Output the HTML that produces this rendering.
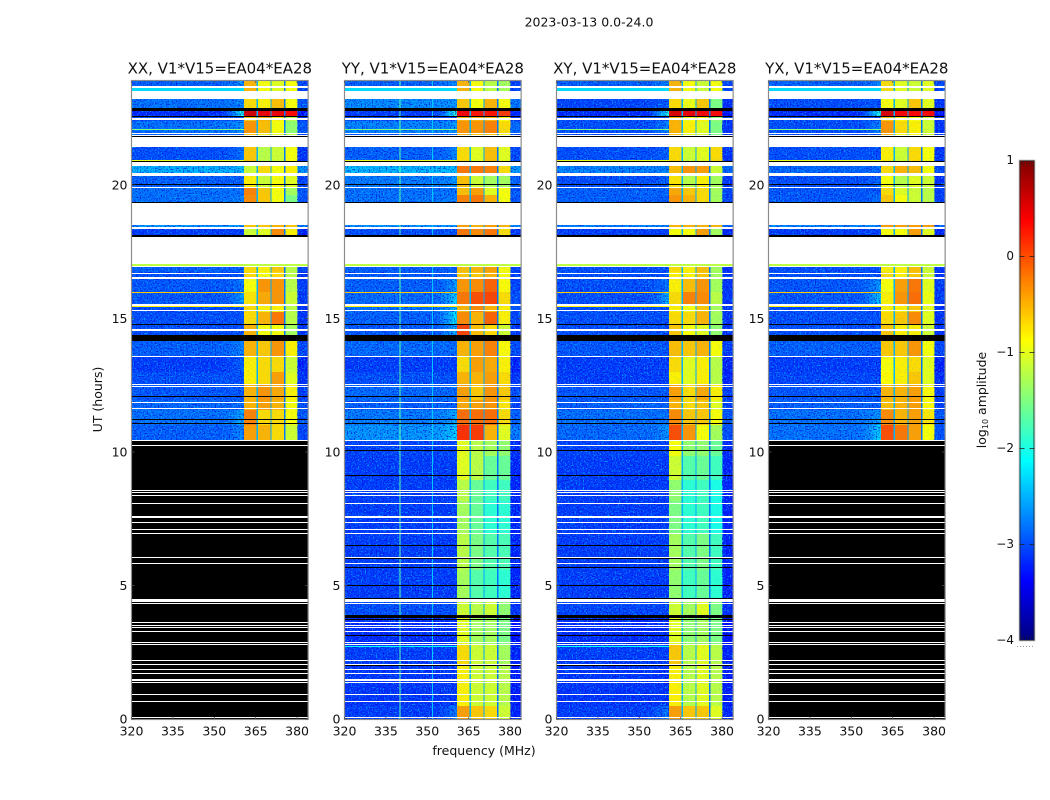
<!DOCTYPE html>
<html>
<head>
<meta charset="utf-8">
<title>2023-03-13 0.0-24.0</title>
<style>
html,body{margin:0;padding:0;background:#fff;}
svg{display:block;}
text{font-family:"DejaVu Sans","Liberation Sans",sans-serif;fill:#111;}
</style>
</head>
<body>
<svg id="chart" xmlns="http://www.w3.org/2000/svg" width="1050" height="800" viewBox="0 0 1050 800">
  <defs>
    <filter id="speckle-light" x="0" y="0" width="1" height="1" color-interpolation-filters="sRGB">
      <feTurbulence type="fractalNoise" baseFrequency="0.72" numOctaves="1" seed="4"/>
      <feColorMatrix type="matrix" values="0 0 0 0 0  0 0 0 0 0.72  0 0 0 0 1  5 0 0 0 -2.55"/>
    </filter>
    <filter id="speckle-dark" x="0" y="0" width="1" height="1" color-interpolation-filters="sRGB">
      <feTurbulence type="fractalNoise" baseFrequency="0.72" numOctaves="1" seed="11"/>
      <feColorMatrix type="matrix" values="0 0 0 0 0  0 0 0 0 0.05  0 0 0 0 0.85  5 0 0 0 -2.5"/>
    </filter>
  </defs>
  <text x="589" y="26.5" font-size="12.5" text-anchor="middle">2023-03-13 0.0-24.0</text>
  <text x="484" y="755" font-size="12.5" text-anchor="middle">frequency (MHz)</text>
  <text x="0" y="0" font-size="12.5" text-anchor="middle" transform="translate(102 399.5) rotate(-90)">UT (hours)</text>
  <text x="0" y="0" font-size="12.5" text-anchor="middle" transform="translate(986 400) rotate(-90)">log<tspan font-size="8" dy="2">10</tspan><tspan dy="-2"> amplitude</tspan></text>
  <g id="panels"></g>
  <g id="colorbar"></g>
</svg>
<script>
const panelNames = ["XX", "YY", "XY", "YX"];
const baselineLabel = "V1*V15=EA04*EA28";
const xTicks = [320, 335, 350, 365, 380];
const yTicks = [0, 5, 10, 15, 20];
const colorbarTicks = [1, 0, -1, -2, -3, -4];
const colorbarLabels = ["1", "0", "\u22121", "\u22122", "\u22123", "\u22124"];

// Spectral windows, MHz
const windowEdges = [[360.7, 365.3], [365.8, 370.4], [370.8, 375.2], [375.8, 380.1]];
const bandEdge = 352;
const freqMin = 320;
const freqMax = 384;
const gapLevels = [-2.5, -2.55, -2.8];

// Time bands, UT hours [top, bottom]
const utBands = [[24,23.6],[23.32,22.97],[22.87,22.67],[22.67,22.49],[22.49,22.02],[22.02,21.88],[21.49,20.99],[20.79,20.54],[20.41,19.96],[19.96,19.7],[19.7,19.42],[18.57,18.49],[18.42,18.18],[16.98,16.8],[16.8,16.54],[16.54,16.05],[16.05,15.6],[15.6,15.3],[15.3,14.85],[14.85,14.42],[14.22,13.65],[13.65,13.05],[13.05,12.55],[12.55,12],[12,11.6],[11.6,11.05],[11.05,10.49],[10.45,9.9],[9.9,9],[9,8.2],[8.2,7],[7,5.6],[5.6,4.5],[4.5,3.8],[3.8,2.8],[2.8,2],[2,0.5],[0.5,0]];

// log10 amplitude per time band: [background, near-edge, window1..window4]
const xxLevels = [[-2.9,-2.6,-0.5,-0.9,-1.0,-0.9],[-2.8,-2.7,-0.7,-0.8,-0.55,-0.9],[-3.2,-2.0,0.6,0.45,0.45,0.35],[-3,-3,-0.6,-0.5,-0.8,-1.2],[-2.8,-2.6,-0.35,-0.55,-0.9,-1.4],[-2.9,-2.9,-0.6,-0.8,-1,-1.2],[-3,-2.8,-0.6,-1.2,-1.1,-0.9],[-2.45,-2.4,-1.1,-0.7,-0.9,-0.8],[-2.9,-2.9,-0.8,-1.1,-0.9,-1],[-2.8,-2.8,-0.25,-0.6,-0.9,-1.3],[-2.8,-2.7,-0.3,-0.6,-0.9,-1.5],[-2.6,-2.6,-0.6,-0.6,-0.5,-0.6],[-3.1,-3.1,-1.1,-1,-0.3,-0.8],[-2.9,-2.9,-0.7,-0.8,-0.6,-1.2],[-3,-3,-0.7,-0.9,-0.7,-1.2],[-2.95,-2.8,-0.9,-0.35,-0.35,-1.2],[-2.95,-2.6,-0.75,-0.45,-0.35,-1.1],[-3,-3,-0.7,-0.8,-0.8,-1.2],[-3,-3,-0.7,-0.5,-0.2,-1.2],[-3,-3,-0.5,-0.9,-0.9,-1.3],[-2.9,-2.7,-0.5,-0.6,-0.35,-0.8],[-3.1,-2.9,-0.8,-0.7,-0.7,-1.1],[-3,-3,-0.8,-0.7,-0.4,-1],[-2.95,-2.95,-0.5,-0.35,-0.45,-0.8],[-2.85,-2.85,-0.5,-0.4,-0.5,-0.9],[-2.8,-2.5,-0.25,-0.7,-0.7,-0.9],[-2.9,-2.7,-0.4,-0.5,-0.7,-1.1]];
const yyLevels = [[-2.9,-2.7,-0.5,-0.9,-1.2,-1.3],[-2.65,-2.6,-0.6,-0.9,-0.5,-0.9],[-3.1,-1.9,0.4,0.3,0.3,0.1],[-3,-3,-0.5,-0.5,-0.5,-0.9],[-2.7,-2.6,-0.35,-0.35,-0.25,-0.7],[-2.9,-2.9,-0.5,-0.6,-0.6,-0.9],[-2.9,-2.7,-0.7,-1,-0.55,-1],[-2.4,-2.4,-0.2,-0.2,-0.25,-0.7],[-2.75,-2.6,-0.55,-1.1,-1.3,-1.3],[-2.8,-2.8,-0.55,-0.4,-1,-0.9],[-2.8,-2.7,-0.25,-0.2,-0.5,-0.9],[-2.6,-2.6,-0.4,-0.5,-0.4,-0.5],[-3,-3,-0.2,-0.3,-0.2,-0.7],[-2.9,-2.9,-0.55,-0.5,-0.4,-0.9],[-2.95,-2.9,-0.6,-0.6,-0.5,-0.9],[-2.9,-2.6,-0.35,-0.3,-0.1,-0.85],[-2.85,-2.3,-0.2,0,0.05,-0.7],[-2.8,-2.4,-0.5,-0.3,-0.5,-0.8],[-2.9,-2.2,-0.3,-0.5,-0.1,-0.8],[-2.95,-2.5,0.05,-0.55,-0.7,-1.1],[-2.85,-2.85,-0.5,-0.4,-0.25,-0.85],[-3.1,-3.1,-0.7,-0.4,-0.45,-0.8],[-3,-3,-0.5,-0.5,-0.4,-0.7],[-2.85,-2.85,-0.4,-0.6,-0.35,-0.6],[-2.9,-2.9,-0.45,-0.4,-0.35,-0.75],[-2.75,-2.5,-0.15,-0.15,-0.15,-0.7],[-2.6,-2.3,0.15,0.1,-0.5,-1],[-3.05,-3.05,-1.0,-1.2,-1.3,-1.4],[-3.1,-3.1,-1,-1.2,-1.6,-1.6],[-3.1,-3.1,-1.2,-1.6,-1.8,-1.8],[-3.1,-3.1,-1.3,-1.6,-1.9,-1.9],[-3.1,-3.1,-1.2,-1.5,-1.7,-1.75],[-3.1,-3.1,-1.3,-1.7,-1.8,-1.9],[-3,-3,-1.1,-1.2,-1.1,-1.4],[-3.2,-3.2,-1,-1.3,-1.3,-1.5],[-3.1,-3.1,-0.7,-1.1,-1.1,-1.3],[-3.15,-3.15,-0.8,-1.1,-1.1,-1.2],[-3.1,-2.8,-0.4,-0.6,-0.7,-1.1]];
const xyLevels = [[-2.9,-2.7,-0.5,-0.9,-1.1,-0.9],[-3.05,-2.9,-0.7,-0.95,-0.6,-1.5],[-3.2,-2,0.55,0.45,0.4,0.35],[-3,-3,-0.5,-0.9,-0.8,-1.4],[-3,-2.7,-0.5,-0.8,-1,-1.5],[-3,-3,-0.6,-1,-1.1,-1.5],[-3,-2.9,-0.7,-1.1,-1,-0.7],[-2.7,-2.7,-0.55,-0.35,-0.4,-1.1],[-3,-2.9,-0.75,-1.2,-0.8,-1.3],[-2.9,-2.9,-0.45,-0.6,-0.7,-1.3],[-2.9,-2.9,-0.35,-0.5,-0.7,-1.3],[-2.7,-2.7,-0.5,-0.5,-0.5,-0.5],[-3.1,-3.1,-0.9,-0.9,-0.4,-1.3],[-3,-3,-0.7,-0.8,-0.55,-1.3],[-3,-3,-0.8,-0.8,-0.6,-1.3],[-3,-2.8,-0.8,-0.55,-0.35,-1.3],[-3,-2.5,-0.7,-0.25,-0.3,-1.2],[-3,-3,-0.8,-0.9,-0.6,-1.3],[-3,-3,-0.7,-0.7,-0.5,-1.3],[-3,-3,-0.6,-0.9,-1,-1.4],[-2.95,-2.95,-0.55,-0.6,-0.5,-0.9],[-3.1,-3.1,-0.7,-1,-0.8,-1.2],[-3.1,-3.1,-0.8,-1,-0.8,-1.2],[-2.95,-2.95,-0.4,-0.7,-0.45,-0.8],[-2.9,-2.9,-0.5,-0.7,-0.6,-1],[-2.8,-2.8,-0.3,-0.6,-0.6,-0.9],[-2.85,-2.6,0,-0.35,-0.9,-1.3],[-3.05,-3.05,-0.9,-1.4,-1.4,-1.6],[-3.1,-3.1,-1.1,-1.7,-1.6,-1.8],[-3.1,-3.1,-1.4,-1.9,-1.8,-2],[-3.1,-3.1,-1.5,-1.9,-1.8,-2],[-3.1,-3.1,-1.3,-1.7,-1.5,-1.8],[-3.1,-3.1,-1.4,-1.8,-1.6,-1.9],[-3.05,-3.05,-1.1,-1.3,-1,-1.5],[-3.2,-3.2,-1,-1.4,-1.3,-1.5],[-3.1,-3.1,-0.6,-1.2,-1,-1.2],[-3.15,-3.15,-0.8,-1.2,-1,-1.2],[-3.1,-2.8,-0.4,-0.6,-0.6,-1]];
const yxLevels = [[-2.9,-2.7,-0.7,-1,-1.1,-1],[-3,-3,-0.9,-1,-0.6,-1],[-3.2,-2,0.55,0.4,0.35,0.35],[-3,-3,-0.6,-0.8,-0.9,-1.1],[-3,-2.7,-0.35,-0.7,-0.8,-1.1],[-3,-3,-0.5,-0.9,-0.9,-1.1],[-3,-3,-0.8,-1.1,-0.7,-0.9],[-2.85,-2.85,-0.7,-0.5,-0.55,-0.9],[-3,-2.9,-0.9,-1.2,-1,-1.1],[-2.95,-2.95,-0.7,-1,-1.1,-1.2],[-2.95,-2.8,-0.6,-0.9,-1.1,-1.2],[-2.7,-2.7,-0.4,-0.4,-0.4,-0.4],[-3.1,-3.1,-0.9,-0.9,-0.4,-1],[-3,-3,-0.8,-0.8,-0.55,-1.1],[-3,-3,-0.7,-0.8,-0.6,-1.1],[-2.95,-2.6,-0.9,-0.4,-0.2,-1],[-2.95,-2.4,-0.8,-0.35,-0.15,-0.95],[-3,-3,-0.8,-0.8,-0.6,-1],[-3,-3,-0.7,-0.6,-0.3,-1],[-3,-3,-0.6,-0.8,-0.8,-1.1],[-2.9,-2.9,-0.6,-0.6,-0.35,-0.9],[-3.1,-3.1,-0.9,-0.8,-0.7,-1],[-3.05,-3.05,-0.85,-0.8,-0.6,-1],[-2.95,-2.95,-0.5,-0.5,-0.4,-0.85],[-2.9,-2.9,-0.55,-0.5,-0.4,-0.85],[-2.8,-2.6,-0.3,-0.5,-0.4,-0.75],[-2.8,-2.3,0,-0.2,-0.4,-0.9]];
const panelLevels = [xxLevels, yyLevels, xyLevels, yxLevels];

// Interference below the windows: [UT top, UT bottom, level]
const rfiRows = [[23.72,23.62,-2.3],[22.19,22.13,-1.5],[21.03,20.99,-1.0],[16.05,16.01,-0.6],[15.52,15.47,-0.8],[14.62,14.6,-1.6],[2.74,2.7,-2.1]];
// Interference across the whole band: [UT top, UT bottom, level]
const fullWidthRows = [[17.1,17.04,-1.2]];
// Interference channels per panel: [MHz, level]
const rfiChannels = [[], [[339.9,-1.7],[351.7,-2.4]], [], []];
// Panels fully flagged below this UT (null: none)
const flaggedBelow = [10.45, null, null, 10.45];

// Flagged rows, UT hours [top, bottom]
const blackRows = [[23.62,23.6],[22.97,22.87],[22.67,22.62],[21.9,21.88],[20.99,20.95],[20.13,20.1],[19.43,19.41],[18.18,18.13],[14.84,14.81],[14.42,14.22],[12.14,12.1],[11.27,11.24],[11.12,11.09],[10.11,10.08],[9.18,9.16],[6.55,6.53],[6.05,6.0],[5.7,5.68],[5.03,5.0],[4.55,4.52],[3.91,3.79],[3.76,3.72],[3.16,3.13],[2.03,2.0]];
const whiteRows = [[23.8,23.74],[23.6,23.32],[22.6,22.57],[22.55,22.52],[22.02,21.98],[21.94,21.9],[21.88,21.49],[20.95,20.79],[20.54,20.41],[20.0,19.97],[19.41,18.57],[18.49,18.42],[18.13,17.1],[17.04,16.98],[16.77,16.74],[16.63,16.54],[15.59,15.54],[15.38,15.34],[14.66,14.6],[13.65,13.61],[12.58,12.56],[12.52,12.49],[11.92,11.88],[11.69,11.67],[10.49,10.45],[10.3,10.27],[8.61,8.57],[8.53,8.51],[8.42,8.39],[8.12,8.09],[7.63,7.57],[7.41,7.38],[7.14,7.11],[6.99,6.97],[6.09,6.06],[5.86,5.84],[4.51,4.4],[4.36,4.33],[3.65,3.61],[3.53,3.51],[3.46,3.42],[3.31,3.28],[2.89,2.86],[2.82,2.79],[2.22,2.18],[2.07,2.03],[1.88,1.84],[1.73,1.7],[1.5,1.43],[1.39,1.36],[0.94,0.9],[0.68,0.65],[0.08,0.04]];

const SVG_NS = "http://www.w3.org/2000/svg";
const panelLefts = [131.5, 344.5, 556.5, 768.5];
const plotTop = 81;
const plotBottom = 719;
const pxPerMHz = 2.76;
const pxPerHour = 26.6;
const tickPxPerHour = 26.7;
const barLeft = 1019.5, barRight = 1034.5, barTop = 160.5, barBottom = 640.5;

function xScale(panel, f) { return panelLefts[panel] + (f - freqMin) * pxPerMHz; }
function yScale(h) { return plotBottom - h * pxPerHour; }
function yTickScale(h) { return plotBottom - h * tickPxPerHour; }
function barScale(v) { return barBottom - ((v + 4) / 5) * (barBottom - barTop); }

function jet(v) {
  const t = Math.max(0, Math.min(1, (v + 4) / 5));
  const c = (a) => Math.round(255 * Math.max(0, Math.min(1, a)));
  const r = 1.5 - Math.abs(4 * t - 3);
  const g = 1.5 - Math.abs(4 * t - 2);
  const b = 1.5 - Math.abs(4 * t - 1);
  return "rgb(" + c(r) + "," + c(g) + "," + c(b) + ")";
}

function make(parent, tag, attrs) {
  const el = document.createElementNS(SVG_NS, tag);
  for (const k in attrs) el.setAttribute(k, attrs[k]);
  parent.appendChild(el);
  return el;
}

function fillBox(parent, panel, f0, f1, hTop, hBottom, color) {
  const y0 = Math.round(yScale(hTop));
  const y1 = Math.max(Math.round(yScale(hBottom)), y0 + 1);
  return make(parent, "rect", {
    x: xScale(panel, f0),
    y: y0,
    width: (f1 - f0) * pxPerMHz,
    height: y1 - y0,
    fill: color,
    "shape-rendering": "crispEdges"
  });
}

function drawPanel(p) {
  const root = document.getElementById("panels");
  const levels = panelLevels[p];
  const g = make(root, "g", {});
  
  

  const clipId = "clip-" + p;
  const defs = make(g, "clipPath", { id: clipId });
  make(defs, "rect", {
    x: xScale(p, freqMin), y: plotTop,
    width: (freqMax - freqMin) * pxPerMHz, height: plotBottom - plotTop
  });
  const heat = make(g, "g", { "clip-path": "url(#" + clipId + ")" });
  
  

  levels.forEach(function (row, i) {
    const top = utBands[i][0], bottom = utBands[i][1];
    const bg = fillBox(heat, p, freqMin, bandEdge, top, bottom, jet(row[0]));
    
    
    const span = windowEdges[0][0] - bandEdge;
    for (let s = 0; s < 6; s++) {
      const frac = (s + 1) / 6;
      const level = row[0] + (row[1] - row[0]) * frac * frac;
      const edge = fillBox(heat, p, bandEdge + span * s / 6, bandEdge + span * (s + 1) / 6, top, bottom, jet(level));
      
      
    }
    const right = fillBox(heat, p, windowEdges[3][1], freqMax, top, bottom, jet(row[0] - 0.15));
    
    
    windowEdges.forEach(function (w, k) {
      const cell = fillBox(heat, p, w[0], w[1], top, bottom, jet(row[2 + k]));
      
      
      if (k < 3) {
        const gap = fillBox(heat, p, w[1], windowEdges[k + 1][0], top, bottom, jet(gapLevels[k]));
        
        
      }
    });
  });

  [[freqMin, windowEdges[0][0]], [windowEdges[3][1], freqMax]].forEach(function (spanEdges) {
    ["speckle-light", "speckle-dark"].forEach(function (fid) {
      const speck = make(heat, "rect", {
        x: xScale(p, spanEdges[0]), y: plotTop,
        width: (spanEdges[1] - spanEdges[0]) * pxPerMHz, height: plotBottom - plotTop,
        filter: "url(#" + fid + ")", opacity: 0.8
      });
      
      
    });
  });
  const windowSpeck = make(heat, "rect", {
    x: xScale(p, windowEdges[0][0]), y: plotTop,
    width: (windowEdges[3][1] - windowEdges[0][0]) * pxPerMHz, height: plotBottom - plotTop,
    filter: "url(#speckle-light)", opacity: 0.18
  });
  
  

  rfiChannels[p].forEach(function (c) {
    const line = fillBox(heat, p, c[0], c[0] + 0.36, 24, 0, jet(c[1]));
    
    
  });
  rfiRows.forEach(function (r) {
    const rf = fillBox(heat, p, freqMin, windowEdges[0][0], r[0], r[1], jet(r[2]));
    
    
  });
  fullWidthRows.forEach(function (r) {
    const rf = fillBox(heat, p, freqMin, freqMax, r[0], r[1], jet(r[2]));
    
    
  });
  if (flaggedBelow[p] !== null) {
    const fl = fillBox(heat, p, freqMin, freqMax, flaggedBelow[p], 0, "#000");
    
    
  }
  blackRows.forEach(function (r) {
    const b = fillBox(heat, p, freqMin, freqMax, r[0], r[1], "#000");
    
    
  });
  whiteRows.forEach(function (r) {
    const w = fillBox(heat, p, freqMin, freqMax, r[0], r[1], "#fff");
    
    
  });

  const frame = make(g, "rect", {
    x: xScale(p, freqMin), y: plotTop - 0.5,
    width: (freqMax - freqMin) * pxPerMHz, height: plotBottom - plotTop + 1,
    fill: "none", stroke: "#8c8c8c", "stroke-width": 1.2
  });
  
  

  const title = make(g, "text", {
    x: xScale(p, freqMin) + (freqMax - freqMin) * pxPerMHz / 2,
    y: 73.5, "font-size": 15, "text-anchor": "middle"
  });
  title.textContent = panelNames[p] + ", " + baselineLabel;
  
  

  xTicks.forEach(function (t) {
    const x = xScale(p, t);
    [[plotBottom, plotBottom - 2], [plotTop, plotTop + 2]].forEach(function (s) {
      const tick = make(g, "line", { x1: x, x2: x, y1: s[0], y2: s[1], stroke: "#555", "stroke-width": 0.8 });
      
      
    });
    const lab = make(g, "text", { x: x, y: 735.5, "font-size": 12.5, "text-anchor": "middle" });
    lab.textContent = String(t);
    
    
  });
  yTicks.forEach(function (t) {
    const y = yTickScale(t);
    const xl = xScale(p, freqMin), xr = xScale(p, freqMax);
    [[xl, xl + 3], [xr, xr - 3]].forEach(function (s) {
      const tick = make(g, "line", { x1: s[0], x2: s[1], y1: y, y2: y, stroke: "#555", "stroke-width": 0.8 });
      
      
    });
    const lab = make(g, "text", { x: xl - 4, y: y + 4.5, "font-size": 12.5, "text-anchor": "end" });
    lab.textContent = String(t);
    
    
  });
}

function drawColorbar() {
  const g = document.getElementById("colorbar");
  const steps = 200;
  for (let i = 0; i < steps; i++) {
    const lo = -4 + 5 * i / steps;
    const hi = -4 + 5 * (i + 1) / steps;
    const seg = make(g, "rect", {
      x: barLeft, y: barScale(hi),
      width: barRight - barLeft, height: barScale(lo) - barScale(hi),
      fill: jet((lo + hi) / 2), "shape-rendering": "crispEdges"
    });
    
    
  }
  const inner = make(g, "rect", {
    x: barLeft + 0.6, y: barTop + 0.3, width: barRight - barLeft - 1.2, height: barBottom - barTop - 0.6,
    fill: "none", stroke: "#222", "stroke-width": 0.7
  });
  
  
  const frame = make(g, "rect", {
    x: barLeft - 0.4, y: barTop - 0.4, width: barRight - barLeft + 0.8, height: barBottom - barTop + 0.8,
    fill: "none", stroke: "#b5b5b5", "stroke-width": 0.8
  });
  
  

  colorbarTicks.forEach(function (t, i) {
    const y = barScale(t);
    if (t < 1 && t > -4) {
      [[barLeft, barLeft + 5], [barRight, barRight - 5]].forEach(function (s) {
        const tick = make(g, "line", { x1: s[0], x2: s[1], y1: y, y2: y, stroke: "#222", "stroke-width": 0.8 });
        
        
      });
    }
    const lab = make(g, "text", { x: 1014, y: y + 3.5, "font-size": 12, "text-anchor": "end" });
    lab.textContent = colorbarLabels[i];
    
    
  });

  [barTop, barBottom].forEach(function (yEnd) {
    const dir = yEnd === barTop ? 1 : -1;
    for (let x = barLeft + 1.5; x < barRight - 1; x += 2.7) {
      const comb = make(g, "line", { x1: x, x2: x, y1: yEnd, y2: yEnd + dir * 5, stroke: "#222", "stroke-width": 0.6, opacity: 0.7 });
      
      
    }
  });

  const dots = make(g, "line", {
    x1: 1017, x2: 1035, y1: 646.5, y2: 646.5,
    stroke: "#999", "stroke-width": 1, "stroke-dasharray": "1 2"
  });
  
  
}

panelNames.forEach(function (_, p) { drawPanel(p); });
drawColorbar();
</script>
</body>
</html>
